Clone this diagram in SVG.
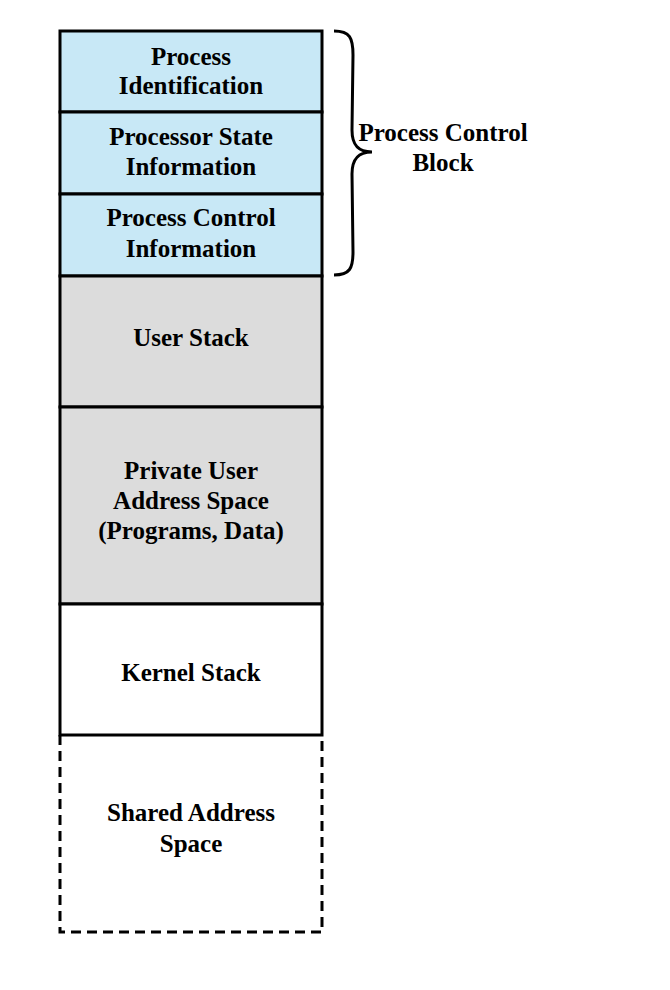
<svg xmlns="http://www.w3.org/2000/svg" width="670" height="990" viewBox="0 0 670 990">
<style>
.box{stroke:#000;stroke-width:3}
.pcb{fill:#c8e8f6}
.usr{fill:#dcdcdc}
.krn{fill:#fff}
.t{font-family:"Liberation Serif","Times New Roman",serif;font-weight:bold;font-size:25px;text-anchor:middle;fill:#000}
</style>
<rect width="670" height="990" fill="#fff"/>
<g id="process-identification">
<rect class="box pcb" x="60" y="31" width="262" height="81"/>
<text class="t" x="191" y="65">Process</text>
<text class="t" x="191" y="94">Identification</text>
</g>
<g id="processor-state">
<rect class="box pcb" x="60" y="112" width="262" height="82"/>
<text class="t" x="191" y="145">Processor State</text>
<text class="t" x="191" y="175">Information</text>
</g>
<g id="process-control-info">
<rect class="box pcb" x="60" y="194" width="262" height="82"/>
<text class="t" x="191" y="226">Process Control</text>
<text class="t" x="191" y="257">Information</text>
</g>
<g id="user-stack">
<rect class="box usr" x="60" y="276" width="262" height="131"/>
<text class="t" x="191" y="346">User Stack</text>
</g>
<g id="private-user">
<rect class="box usr" x="60" y="407" width="262" height="197"/>
<text class="t" x="191" y="479">Private User</text>
<text class="t" x="191" y="509">Address Space</text>
<text class="t" x="191" y="539">(Programs, Data)</text>
</g>
<g id="kernel-stack">
<rect class="box krn" x="60" y="604" width="262" height="131"/>
<text class="t" x="191" y="681">Kernel Stack</text>
</g>
<g id="shared-address">
<path d="M60 735 V932 H322 V735" fill="none" stroke="#000" stroke-width="3" stroke-dasharray="10,6"/>
<text class="t" x="191" y="821">Shared Address</text>
<text class="t" x="191" y="852">Space</text>
</g>
<g id="connectors">
<path d="M334 31 C350 31 353 38 353 55 L352 130 C352 145 358 152 372 152 C358 152 352 159 352 174 L353 252 C353 268 350 275 334 275" fill="none" stroke="#000" stroke-width="3"/>
</g>
<g id="pcb-label">
<text class="t" x="443" y="141">Process Control</text>
<text class="t" x="443" y="171">Block</text>
</g>
</svg>
